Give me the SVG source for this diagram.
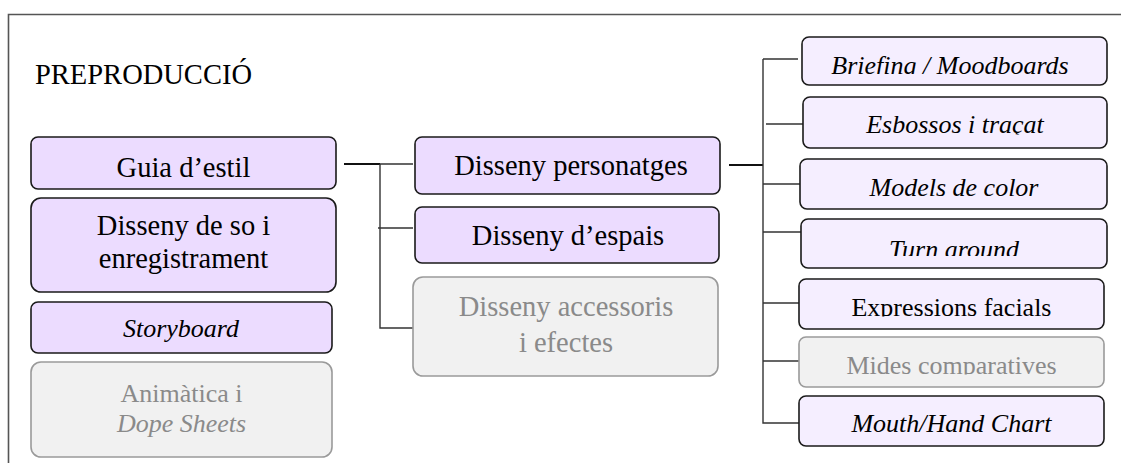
<svg xmlns="http://www.w3.org/2000/svg" width="1121" height="463" viewBox="0 0 1121 463" font-family="Liberation Serif, serif">
<style>
.box{fill:#ecdcff;stroke:#1a1a1a;stroke-width:1.6}
.boxl{fill:#f5eeff;stroke:#1a1a1a;stroke-width:1.6}
.gbox{fill:#f1f1f1;stroke:#9a9a9a;stroke-width:1.6}
.big{font-family:'Liberation Serif',serif;font-size:28.5px;fill:#000;text-anchor:middle}
.sml{font-family:'Liberation Serif',serif;font-size:26px;fill:#000;text-anchor:middle}
.gry{fill:#8a8a8a}
.itl{font-style:italic}
.con{fill:none;stroke:#333;stroke-width:1.4}
</style>
<defs>
<clipPath id="c1"><rect x="800" y="36" width="310" height="38"/></clipPath>
<clipPath id="c2"><rect x="800" y="96" width="310" height="38.5"/></clipPath>
<clipPath id="c4"><rect x="800" y="218" width="310" height="38"/></clipPath>
<clipPath id="c5"><rect x="797" y="278" width="310" height="38.5"/></clipPath>
<clipPath id="c6"><rect x="797" y="336" width="310" height="38.5"/></clipPath>
</defs>
<g id="frame">
<path d="M8.5,463 V14.5 H1121" fill="none" stroke="#555" stroke-width="1.6"/>
<text x="35" y="84" font-family="Liberation Serif, serif" font-size="28.5" fill="#000">PREPRODUCCIÓ</text>
</g>
<g id="connectors">
<path d="M344,164 H380" fill="none" stroke="#111" stroke-width="2"/>
<path class="con" d="M380,164 H413 M380,164 V328 H413 M378,228 H413"/>
<path d="M729,165 H763" fill="none" stroke="#111" stroke-width="2"/>
<path class="con" d="M763,59 H798 M763,59 V423 H799 M766,124 H803 M763,184 H800 M763,232 H801 M763,303 H799 M763,361 H799"/>
</g>
<g id="guia"><rect class="box" x="31" y="137" width="305" height="52" rx="7"/><text class="big" x="183.5" y="177">Guia d’estil</text></g>
<g id="so"><rect class="box" x="31" y="198" width="305" height="94" rx="10"/><text class="big" x="183.5" y="235">Disseny de so i</text><text class="big" x="183.5" y="268">enregistrament</text></g>
<g id="storyboard"><rect class="box" x="31" y="302" width="301" height="51" rx="7"/><text class="sml itl" x="181" y="337">Storyboard</text></g>
<g id="animatica"><rect class="gbox" x="31" y="362" width="301" height="95" rx="10"/><text class="sml gry" x="181.5" y="402">Animàtica i</text><text class="sml gry itl" x="181.5" y="432">Dope Sheets</text></g>
<g id="personatges"><rect class="box" x="415" y="137" width="305" height="57" rx="7"/><text class="big" x="571" y="175">Disseny personatges</text></g>
<g id="espais"><rect class="box" x="415" y="207" width="304" height="56" rx="7"/><text class="big" x="568" y="245">Disseny d’espais</text></g>
<g id="accessoris"><rect class="gbox" x="413" y="277" width="305" height="99" rx="10"/><text class="big gry" x="566" y="316">Disseny accessoris</text><text class="big gry" x="566" y="352">i efectes</text></g>
<g id="briefing"><rect class="boxl" x="802" y="37" width="305" height="48" rx="7"/><text class="sml itl" x="950" y="74" clip-path="url(#c1)">Briefing / Moodboards</text></g>
<g id="esbossos"><rect class="boxl" x="803" y="97" width="304" height="51" rx="7"/><text class="sml itl" x="955" y="133" clip-path="url(#c2)">Esbossos i traçat</text></g>
<g id="models"><rect class="boxl" x="800" y="159" width="307" height="50" rx="7"/><text class="sml itl" x="954" y="196">Models de color</text></g>
<g id="turn"><rect class="boxl" x="801" y="219" width="306" height="49" rx="7"/><text class="sml itl" x="954" y="258" clip-path="url(#c4)">Turn around</text></g>
<g id="expressions"><rect class="boxl" x="799" y="279" width="305" height="50" rx="7"/><text class="sml" x="951.5" y="316" clip-path="url(#c5)">Expressions facials</text></g>
<g id="mides"><rect class="gbox" x="799" y="337" width="305" height="50" rx="7"/><text class="sml gry" x="951.5" y="374" clip-path="url(#c6)">Mides comparatives</text></g>
<g id="mouth"><rect class="boxl" x="799" y="396" width="305" height="50" rx="7"/><text class="sml itl" x="951.5" y="432">Mouth/Hand Chart</text></g>
</svg>
